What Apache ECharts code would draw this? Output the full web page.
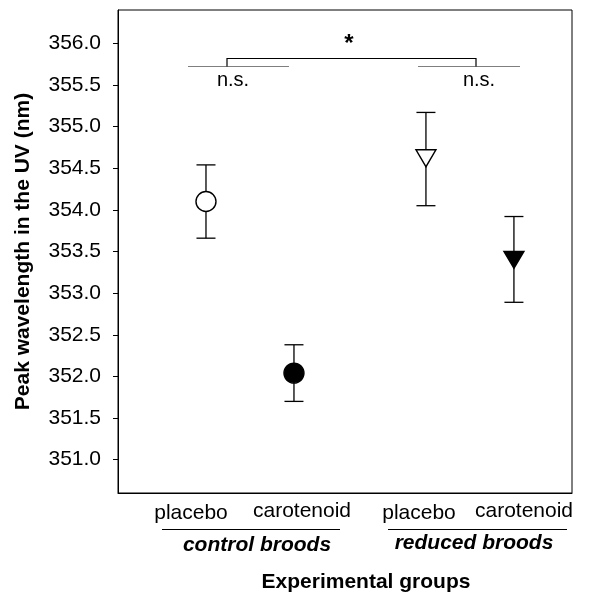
<!DOCTYPE html>
<html>
<head>
<meta charset="utf-8">
<script src="https://cdn.jsdelivr.net/npm/echarts@6/dist/echarts.min.js"></script>
<style>
html,body{margin:0;padding:0;background:#fff;}
#c{width:599px;height:592px;}
</style>
</head>
<body>
<div id="c"></div>
<script>
// ---- data ----
const categories = ['placebo', 'carotenoid', 'placebo', 'carotenoid'];
const broods = ['control broods', 'reduced broods'];
const means = [354.10, 352.04, 354.62, 353.40];
const upper = [354.54, 352.38, 355.17, 353.92];
const lower = [353.66, 351.70, 354.05, 352.89];
const yTicks = [351.0, 351.5, 352.0, 352.5, 353.0, 353.5, 354.0, 354.5, 355.0, 355.5, 356.0];
const yTitle = 'Peak wavelength in the UV (nm)';
const xTitle = 'Experimental groups';
const sigLabels = ['*', 'n.s.', 'n.s.'];

// ---- layout ----
const groupX = [1, 2, 3.5, 4.5];
const symbols = [
  {symbol: 'circle', size: 20, fill: '#fff'},
  {symbol: 'circle', size: 20, fill: '#000'},
  {symbol: 'triangle', size: [20, 17], fill: '#fff', rotate: 180},
  {symbol: 'triangle', size: [20, 17], fill: '#000', rotate: 180}
];
const FONT = '"Liberation Sans", Arial, sans-serif';

const chart = echarts.init(document.getElementById('c'));

const errData = groupX.map((x, i) => [x, lower[i], upper[i]]);
const ptData = groupX.map((x, i) => ({
  value: [x, means[i]],
  symbol: symbols[i].symbol,
  symbolSize: symbols[i].size,
  symbolRotate: symbols[i].rotate || 0,
  itemStyle: {color: symbols[i].fill, borderColor: '#000', borderWidth: 1.4, opacity: 1}
}));

chart.setOption({
  animation: false,
  grid: {left: 118, right: 27, top: 10, bottom: 99, show: true, borderColor: '#000', borderWidth: 1, backgroundColor: 'transparent'},
  xAxis: {
    type: 'value', min: 0, max: 5.16,
    axisLine: {show: true, lineStyle: {color: '#000', width: 1}},
    axisTick: {show: false}, axisLabel: {show: false}, splitLine: {show: false}
  },
  yAxis: {
    type: 'value', min: 350.6, max: 356.4,
    name: yTitle, nameLocation: 'middle', nameGap: 84, nameRotate: 90,
    nameTextStyle: {fontFamily: FONT, fontWeight: 'bold', fontSize: 21, color: '#000'},
    axisLine: {show: true, lineStyle: {color: '#000', width: 1}},
    axisTick: {show: true, length: 5, customValues: yTicks, lineStyle: {color: '#000', width: 1}},
    axisLabel: {show: true, customValues: yTicks, margin: 17, fontFamily: FONT, fontSize: 21, color: '#000',
      formatter: v => Number(v).toFixed(1)},
    splitLine: {show: false}
  },
  series: [
    {
      type: 'custom',
      data: errData,
      z: 2,
      renderItem: function (params, api) {
        const top = api.coord([api.value(0), api.value(2)]);
        const bot = api.coord([api.value(0), api.value(1)]);
        const hw = 9.5;
        const st = {stroke: '#000', lineWidth: 1.3};
        return {
          type: 'group',
          children: [
            {type: 'line', shape: {x1: top[0], y1: top[1], x2: bot[0], y2: bot[1]}, style: st},
            {type: 'line', shape: {x1: top[0] - hw, y1: top[1], x2: top[0] + hw, y2: top[1]}, style: st},
            {type: 'line', shape: {x1: bot[0] - hw, y1: bot[1], x2: bot[0] + hw, y2: bot[1]}, style: st}
          ]
        };
      }
    },
    {
      type: 'scatter',
      z: 3,
      itemStyle: {opacity: 1},
      data: ptData
    }
  ]
});

// ---- annotations ----
const gray = '#7f7f7f';
const txt = (x, y, s, font) => ({
  type: 'text', x: x, y: y,
  style: {text: s, font: font, fill: '#000', align: 'center', verticalAlign: 'middle'}
});
const line = (x1, y1, x2, y2, c) => ({type: 'line', shape: {x1, y1, x2, y2}, style: {stroke: c, lineWidth: 1.2}});

chart.setOption({
  graphic: [
    // significance brackets
    line(188, 66.5, 289, 66.5, gray),
    line(418, 66.5, 520, 66.5, gray),
    {type: 'polyline', shape: {points: [[227, 66.5], [227, 58.5], [476, 58.5], [476, 66.5]]}, style: {stroke: '#000', lineWidth: 1.2, fill: null}},
    txt(349, 44, sigLabels[0], 'bold 24px ' + FONT),
    txt(233, 80, sigLabels[1], '20px ' + FONT),
    txt(479, 80, sigLabels[2], '20px ' + FONT),
    // group labels
    txt(191, 513, categories[0], '21px ' + FONT),
    txt(302, 511, categories[1], '21px ' + FONT),
    txt(419, 513, categories[2], '21px ' + FONT),
    txt(524, 511, categories[3], '21px ' + FONT),
    line(162, 529.5, 340, 529.5, '#000'),
    line(388, 529.5, 567, 529.5, '#000'),
    txt(257, 545, broods[0], 'italic bold 21px ' + FONT),
    txt(474, 543, broods[1], 'italic bold 21px ' + FONT),
    txt(366, 582, xTitle, 'bold 21px ' + FONT)
  ]
});
</script>
</body>
</html>
